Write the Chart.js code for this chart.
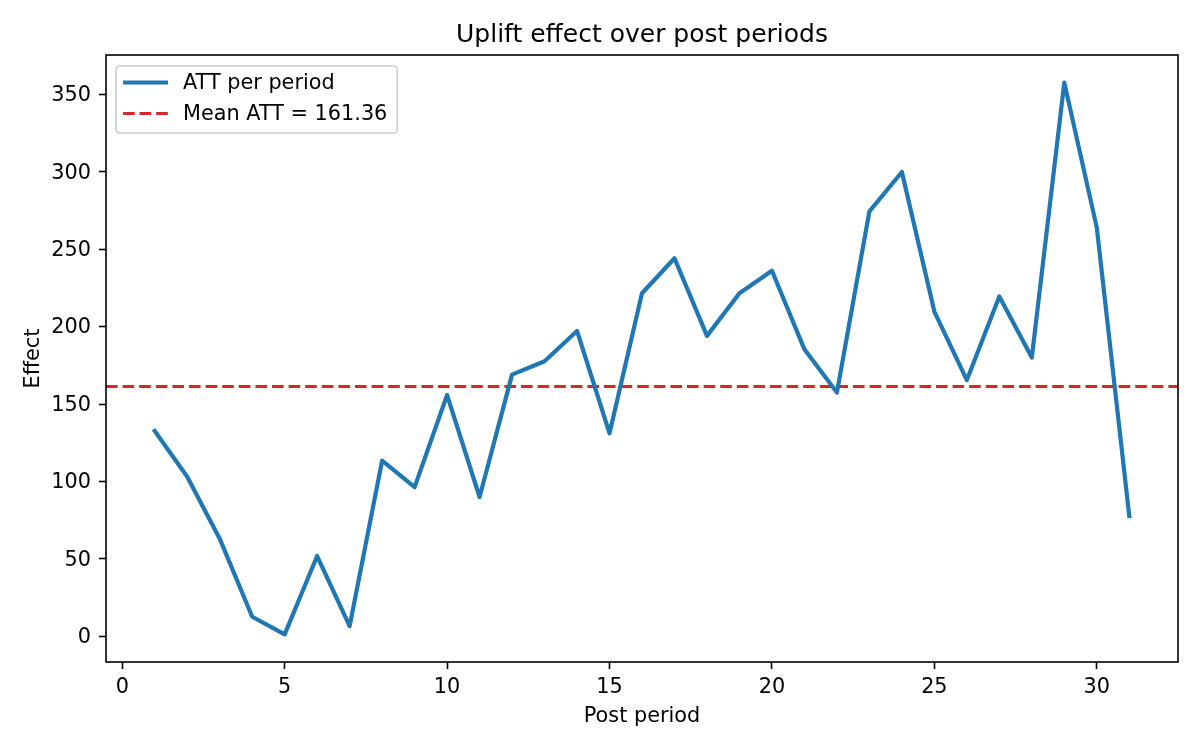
<!DOCTYPE html>
<html>
<head>
<meta charset="utf-8">
<script src="https://cdn.jsdelivr.net/npm/chart.js@4.4.1/dist/chart.umd.min.js"></script>
<style>
  html, body { margin: 0; padding: 0; background: #fff; }
  #wrap { width: 1200px; height: 750px; }
</style>
</head>
<body>
<div id="wrap"><canvas id="chart"></canvas></div>
<script>
const periods = [1, 2, 3, 4, 5, 6, 7, 8, 9, 10, 11, 12, 13, 14, 15, 16,
    17, 18, 19, 20, 21, 22, 23, 24, 25, 26, 27, 28, 29, 30, 31];
const attValues = [132.6, 103.1, 63.1, 12.7, 1.3, 51.9, 6.7, 113.5, 96.4, 155.8,
    90.0, 169.0, 177.6, 197.2, 131.1, 221.5, 244.1, 194.0, 221.5, 236.0,
    185.3, 157.4, 274.4, 299.8, 209.7, 165.5, 219.4, 180.0, 357.5, 263.9, 77.7];
const meanATT = 161.36;
const xTicks = [0, 5, 10, 15, 20, 25, 30];
const yTicks = [0, 50, 100, 150, 200, 250, 300, 350];

const FONT = "DejaVu Sans";
Chart.defaults.font.family = FONT;
Chart.defaults.color = "#000";

// matplotlib style 5% margins
const xMin = Math.min(...periods), xMax = Math.max(...periods);
const yMin = Math.min(...attValues), yMax = Math.max(...attValues);
const xPad = (xMax - xMin) * 0.05, yPad = (yMax - yMin) * 0.05;

const attPoints = periods.map((p, i) => ({ x: p, y: attValues[i] }));
const meanPoints = [{ x: xMin - xPad, y: meanATT }, { x: xMax + xPad, y: meanATT }];

// centre the title over the axes, not the whole canvas
const titleOverAxes = {
    id: "titleOverAxes",
    beforeDraw(chart) {
        if (chart.titleBlock) {
            chart.titleBlock.left = chart.chartArea.left;
            chart.titleBlock.right = chart.chartArea.right;
        }
    },
};

const frame = {
    id: "frame",
    afterDatasetsDraw(chart) {
        const { ctx, chartArea: a } = chart;
        ctx.save();
        ctx.strokeStyle = "#000";
        ctx.lineWidth = 1.6;
        ctx.strokeRect(a.left, a.top, a.right - a.left, a.bottom - a.top);
        ctx.restore();
    },
};

const legendBox = {
    id: "legendBox",
    afterDraw(chart) {
        const { ctx, chartArea } = chart;
        const sets = chart.data.datasets;
        ctx.save();
        ctx.font = "20.8px '" + FONT + "'";
        const textW = Math.max(...sets.map(ds => ctx.measureText(ds.label).width));
        const x = chartArea.left + 10, y = chartArea.top + 11;
        const w = 67 + textW + 10, h = 67;
        ctx.fillStyle = "rgba(255,255,255,0.8)";
        ctx.strokeStyle = "#cccccc";
        ctx.lineWidth = 1.6;
        ctx.beginPath();
        ctx.roundRect(x, y, w, h, 4);
        ctx.fill();
        ctx.stroke();
        sets.forEach((ds, i) => {
            const ry = y + 16.5 + i * 31;
            ctx.strokeStyle = ds.borderColor;
            ctx.lineWidth = ds.borderWidth;
            ctx.setLineDash(ds.borderDash || []);
            ctx.beginPath();
            ctx.moveTo(x + 7, ry);
            ctx.lineTo(x + 52, ry);
            ctx.stroke();
            ctx.setLineDash([]);
            ctx.fillStyle = "#000";
            ctx.textBaseline = "middle";
            ctx.fillText(ds.label, x + 67, ry + 1);
        });
        ctx.restore();
    },
};

const chart = new Chart(document.getElementById("chart"), {
    type: "line",
    data: {
        datasets: [
            {
                label: "ATT per period",
                data: attPoints,
                borderColor: "#1f77b4",
                borderWidth: 4.2,
                borderJoinStyle: "round",
                borderCapStyle: "square",
                pointRadius: 0,
                tension: 0,
            },
            {
                label: "Mean ATT = " + meanATT.toFixed(2),
                data: meanPoints,
                borderColor: "#d62728",
                borderWidth: 3.1,
                borderDash: [11.6, 5],
                pointRadius: 0,
            },
        ],
    },
    options: {
        responsive: true,
        maintainAspectRatio: false,
        animation: false,
        layout: { padding: { left: 0, right: 22, top: 0, bottom: 0 } },
        plugins: {
            legend: { display: false },
            tooltip: { enabled: false },
            title: {
                display: true,
                text: "Uplift effect over post periods",
                color: "#000",
                font: { size: 25, weight: "normal" },
                padding: { top: 20, bottom: 5 },
            },
        },
        scales: {
            x: {
                type: "linear",
                min: xMin - xPad,
                max: xMax + xPad,
                afterBuildTicks: (s) => { s.ticks = xTicks.map(v => ({ value: v })); },
                afterFit: (s) => { s.height = 88; },
                grid: { display: true, drawOnChartArea: false, drawTicks: true,
                        tickLength: 7, tickWidth: 1.6, tickColor: "#000" },
                border: { display: false },
                ticks: { padding: 6, font: { size: 20.8 }, color: "#000", maxRotation: 0 },
                title: { display: true, text: "Post period", font: { size: 20.8 },
                         color: "#000", padding: { top: 0, bottom: 21 } },
            },
            y: {
                type: "linear",
                min: yMin - yPad,
                max: yMax + yPad,
                afterBuildTicks: (s) => { s.ticks = yTicks.map(v => ({ value: v })); },
                afterFit: (s) => { s.width = 106; },
                grid: { display: true, drawOnChartArea: false, drawTicks: true,
                        tickLength: 7, tickWidth: 1.6, tickColor: "#000" },
                border: { display: false },
                ticks: { padding: 8, labelOffset: 1.5, font: { size: 20.8 }, color: "#000" },
                title: { display: true, text: "Effect", font: { size: 20.8 },
                         color: "#000", padding: { top: 21, bottom: 0 } },
            },
        },
    },
    plugins: [titleOverAxes, frame, legendBox],
});
</script>
</body>
</html>
